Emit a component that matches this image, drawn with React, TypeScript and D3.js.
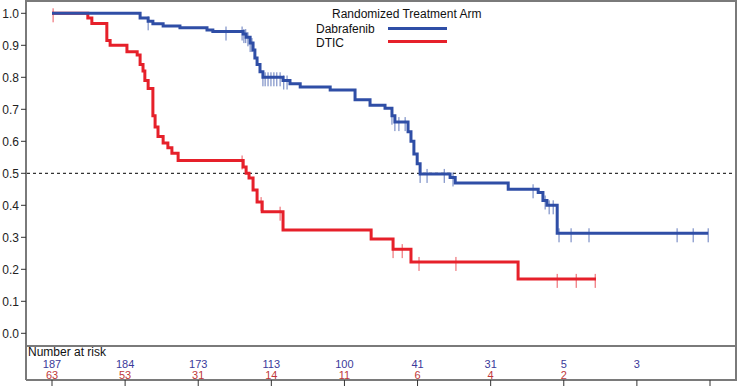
import React from 'react';
import * as d3 from 'd3';

// Kaplan-Meier steps (months, survival)
const dabTimes = [0, 2.41, 2.63, 2.76, 3.04, 3.5, 4.24, 4.4, 5.23, 5.31, 5.42, 5.5, 5.55, 5.61, 5.69, 5.77, 6.32, 6.51, 6.79, 7.61, 8.29, 8.7, 9.11, 9.3, 9.38, 9.74, 9.82, 9.9, 9.99, 10.07, 10.89, 11.03, 12.48, 13.3, 13.43, 13.54, 13.82];
const dabSurv = [1.0, 0.985, 0.975, 0.967, 0.96, 0.955, 0.948, 0.943, 0.935, 0.925, 0.907, 0.885, 0.86, 0.84, 0.817, 0.8, 0.79, 0.78, 0.77, 0.76, 0.73, 0.713, 0.703, 0.68, 0.66, 0.63, 0.6, 0.56, 0.53, 0.498, 0.487, 0.47, 0.45, 0.44, 0.415, 0.4, 0.3125];
const dabEnd = 17.95;
const dabCensor = [2.63, 4.76, 5.2, 5.25, 5.3, 5.36, 5.42, 5.47, 5.77, 5.83, 5.91, 5.99, 6.07, 6.15, 6.24, 6.34, 6.43, 9.3, 9.38, 9.49, 9.66, 10.07, 10.26, 10.73, 10.97, 13.16, 13.49, 13.6, 13.71, 13.87, 14.2, 14.69, 17.1, 17.54, 17.95];

const dticTimes = [0, 0.98, 1.09, 1.5, 1.59, 2.05, 2.33, 2.41, 2.49, 2.54, 2.63, 2.76, 2.82, 2.9, 3.04, 3.17, 3.28, 3.45, 5.23, 5.31, 5.39, 5.5, 5.61, 5.75, 6.32, 8.73, 9.33, 9.82, 12.75];
const dticSurv = [1.0, 0.985, 0.968, 0.915, 0.9, 0.88, 0.87, 0.84, 0.82, 0.79, 0.765, 0.68, 0.645, 0.615, 0.595, 0.58, 0.563, 0.54, 0.52, 0.5, 0.485, 0.448, 0.41, 0.38, 0.323, 0.295, 0.263, 0.223, 0.17];
const dticEnd = 14.88;
const dticCensor = [0.03, 5.2, 5.72, 6.24, 9.33, 9.58, 10.04, 11.05, 13.82, 14.34, 14.86];

const xTicks = [0, 2, 4, 6, 8, 10, 12, 14, 16, 18];
const yTicks = [0, 0.1, 0.2, 0.3, 0.4, 0.5, 0.6, 0.7, 0.8, 0.9, 1.0];
const riskDab = [187, 184, 173, 113, 100, 41, 31, 5, 3];
const riskDtic = [63, 53, 31, 14, 11, 6, 4, 2];

const W = 738;
const H = 386;
const BLUE = '#2f4ea6';
const RED = '#e6202a';
const FRAME = '#7a7a7a';
const FONT = 'Arial, "Liberation Sans", Helvetica, sans-serif';

const x = d3.scaleLinear().domain([0, 18]).range([52, 710]);
const y = d3.scaleLinear().domain([0, 1]).range([333.3, 13.3]);

const stepPath = d3
  .line<[number, number]>()
  .x(d => x(d[0]))
  .y(d => y(d[1]))
  .curve(d3.curveStepAfter);

const pts = (t: number[], s: number[], end: number): [number, number][] => {
  const p = t.map((v, i) => [v, s[i]] as [number, number]);
  p.push([end, s[s.length - 1]]);
  return p;
};

const survAt = (t: number[], s: number[], at: number) => {
  const i = d3.bisectRight(t, at) - 1;
  return s[Math.max(0, i)];
};

const Curve = ({ t, s, end, censor, color }: any) => (
  <g>
    <path d={stepPath(pts(t, s, end)) || ''} fill="none" stroke={color} strokeWidth={3} />
    {censor.map((c: number, i: number) => {
      const cy = y(survAt(t, s, c));
      return (
        <line key={i} x1={x(c)} x2={x(c)} y1={cy - 5} y2={cy + 9} stroke={color} strokeWidth={1} opacity={0.75} />
      );
    })}
  </g>
);

export default function App() {
  return (
    <div style={{ position: 'absolute', left: 0, top: 0 }}>
      <svg width={W} height={H} style={{ display: 'block', background: '#fff' }} fontFamily={FONT}>
        {/* frame */}
        <line x1={26} x2={737} y1={1} y2={1} stroke={FRAME} strokeWidth={2} />
        <line x1={26} x2={26} y1={0} y2={380} stroke={FRAME} strokeWidth={2} />
        <line x1={736} x2={736} y1={0} y2={380} stroke={FRAME} strokeWidth={2} />
        <line x1={26} x2={737} y1={346} y2={346} stroke={FRAME} strokeWidth={2} />
        <line x1={26} x2={737} y1={380} y2={380} stroke={FRAME} strokeWidth={2} />

        {/* y axis */}
        {yTicks.map(v => (
          <g key={v}>
            <line x1={21} x2={26} y1={y(v)} y2={y(v)} stroke="#333" />
            <text x={19} y={y(v) + 4.5} textAnchor="end" fontSize={12} fill="#222">
              {v.toFixed(1)}
            </text>
          </g>
        ))}

        {/* x ticks under the risk table */}
        {xTicks.map(v => (
          <line key={v} x1={x(v)} x2={x(v)} y1={380} y2={386} stroke="#333" />
        ))}

        {/* median reference */}
        <line x1={27} x2={735} y1={y(0.5)} y2={y(0.5)} stroke="#000" strokeDasharray="3,3" strokeWidth={1} />

        <Curve t={dticTimes} s={dticSurv} end={dticEnd} censor={dticCensor} color={RED} />
        <Curve t={dabTimes} s={dabSurv} end={dabEnd} censor={dabCensor} color={BLUE} />

        {/* legend */}
        <text x={332} y={17.5} fontSize={12} fill="#111">Randomized Treatment Arm</text>
        <text x={316} y={32.5} fontSize={12} fill="#111">Dabrafenib</text>
        <text x={316} y={46.5} fontSize={12} fill="#111">DTIC</text>
        <line x1={388} x2={447} y1={28.5} y2={28.5} stroke={BLUE} strokeWidth={3} />
        <line x1={388} x2={447} y1={41.5} y2={41.5} stroke={RED} strokeWidth={3} />

        {/* number at risk */}
        <text x={28} y={355.5} fontSize={12} fill="#111">Number at risk</text>
        {riskDab.map((n, i) => (
          <text key={'b' + i} x={x(xTicks[i])} y={367.5} textAnchor="middle" fontSize={11} fill="#3a3a9a">
            {n}
          </text>
        ))}
        {riskDtic.map((n, i) => (
          <text key={'r' + i} x={x(xTicks[i])} y={378.5} textAnchor="middle" fontSize={11} fill="#c0393b">
            {n}
          </text>
        ))}
      </svg>
    </div>
  );
}
